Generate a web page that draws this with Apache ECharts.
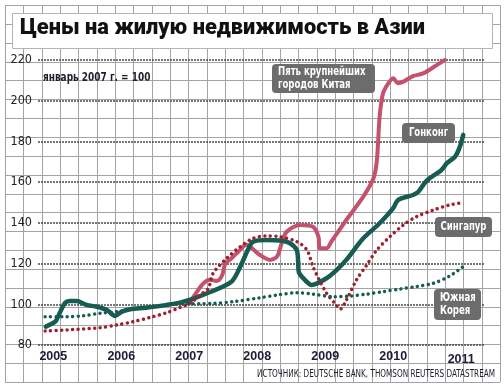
<!DOCTYPE html>
<html><head><meta charset="utf-8">
<script src="https://cdn.jsdelivr.net/npm/echarts@6/dist/echarts.min.js"></script>
<style>html,body{margin:0;padding:0;background:#fff}#c{width:504px;height:385px}</style>
</head><body><div id="c"></div>
<script>
// ---- data (January 2007 = 100) ----
const xTicks = [2005, 2006, 2007, 2008, 2009, 2010, 2011];
const yTicks = [80, 100, 120, 140, 160, 180, 200, 220];

const hkT = [2004.89,2005.03,2005.07,2005.17,2005.25,2005.34,2005.49,2005.64,2005.79,2005.91,2006.01,2006.13,2006.37,2006.67,2006.86,2007.04,2007.26,2007.62,2007.75,2007.88,2007.94,2008.14,2008.33,2008.48,2008.58,2008.60,2008.61,2008.70,2008.80,2009.02,2009.17,2009.31,2009.56,2009.80,2010.00,2010.07,2010.29,2010.37,2010.49,2010.71,2010.79,2010.91,2010.98,2011.03];
const hkV = [89,91.5,94,100.5,101.6,101.6,99.7,98.8,97.2,94.3,96.4,97.6,98.3,99.7,100.8,102.5,105.4,111.1,118.5,128,130.8,131.6,131.3,130,126.7,121.8,116,112,109.5,112.8,116.9,121.8,132.4,139.8,147.2,151.2,153.7,155.3,160.6,166,169.3,172.5,177.4,183.2];

const cnT = [2007.01,2007.11,2007.21,2007.30,2007.40,2007.48,2007.53,2007.60,2007.72,2007.84,2007.94,2008.04,2008.19,2008.29,2008.36,2008.43,2008.63,2008.82,2008.90,2008.92,2009.02,2009.09,2009.31,2009.56,2009.71,2009.76,2009.80,2009.85,2009.93,2010.00,2010.07,2010.15,2010.29,2010.44,2010.64,2010.76];
const cnV = [101,106,110.3,112,111.5,114,120,122,125.8,129.3,127,124.2,121.8,123.4,130,135.5,139,138.1,133.2,127.5,127.5,130.8,141.4,152.9,161.9,170.9,192.2,203.6,208.6,211,208.6,209.4,212.1,213.4,217.5,220];

const sgT = [2004.88,2005.20,2005.69,2005.93,2006.18,2006.42,2006.67,2006.86,2007.01,2007.16,2007.28,2007.35,2007.55,2007.75,2007.94,2008.14,2008.33,2008.58,2008.73,2008.82,2008.90,2009.02,2009.14,2009.22,2009.31,2009.46,2009.61,2009.76,2009.95,2010.15,2010.34,2010.59,2010.83,2011.03];
const sgV = [86.9,87.4,88.5,89.8,91.5,93.5,95.9,98.4,100.5,104.6,107.9,115.2,122.6,128.3,132.4,133.6,133.2,130.8,126.7,118.5,112.8,105.4,100.5,97.6,102,112,119.3,126.7,133.2,139,143,146.3,148.8,150];

const krT = [2004.88,2005.20,2005.44,2005.69,2005.93,2006.18,2006.42,2006.67,2006.96,2007.16,2007.35,2007.65,2008.04,2008.29,2008.58,2008.82,2009.12,2009.36,2009.61,2009.85,2010.10,2010.34,2010.59,2010.83,2011.03];
const krV = [93.9,93.9,94.4,95.6,96.4,97.6,98.8,99.7,100.3,100.3,100.4,101.3,103.2,104.5,105.7,105,103.7,104,105,106.2,107.5,108.7,110.3,113.9,118.5];

const titleText = 'Цены на жилую недвижимость в Азии';
const noteText = 'январь 2007 г. = 100';
const sourceText = 'ИСТОЧНИК: DEUTSCHE BANK, THOMSON REUTERS DATASTREAM';
const nameCN = 'Пять крупнейших\nгородов Китая';
const nameHK = 'Гонконг';
const nameSG = 'Сингапур';
const nameKR = 'Южная\nКорея';

// ---- styling ----
const TEAL = '#175c52', PINK = '#c4526e', RED = '#a01e2d', BOX = '#6c6c6c', PAPER = '#a3a3a3';
const NARROW = '"Liberation Sans Narrow","DejaVu Sans Condensed",sans-serif';
const zip = (t, v) => t.map((x, i) => [x, v[i]]);

const g = [];
// graph paper background
for (let i = 0; i <= 27; i++) {
  const x = Math.round(5 + i * 18.33) + 0.5;
  g.push({type: 'line', silent: true, z: -10, shape: {x1: x, y1: 5, x2: x, y2: 382}, style: {stroke: PAPER, lineWidth: 1}});
}
for (let j = 0; j <= 20; j++) {
  const y = Math.round(5 + j * 18.85) + 0.5;
  g.push({type: 'line', silent: true, z: -10, shape: {x1: 5, y1: y, x2: 500, y2: y}, style: {stroke: PAPER, lineWidth: 1}});
}
// title box
g.push({type: 'rect', silent: true, z: -5, shape: {x: 12.5, y: 13.5, width: 480, height: 35}, style: {fill: '#fff', stroke: '#b5b5b5', lineWidth: 1}});
g.push({type: 'text', z: 10, x: 20, y: 29, style: {text: titleText, fill: '#111', font: '900 21.8px Roboto, "DejaVu Sans", sans-serif', verticalAlign: 'middle'}});
g.push({type: 'text', z: 10, x: 43, y: 78, scaleX: 0.83, style: {text: noteText, fill: '#1e1e2a', font: 'bold 12px ' + NARROW, verticalAlign: 'middle'}});
g.push({type: 'text', z: 10, x: 495, y: 374, scaleX: 0.77, style: {text: sourceText, fill: '#1e1e2a', font: '10.5px ' + NARROW, align: 'right', verticalAlign: 'middle'}});

function tag(x, y, w, h, txt, align) {
  g.push({type: 'rect', z: 20, shape: {x: x, y: y, width: w, height: h, r: 4}, style: {fill: BOX}});
  g.push({type: 'text', z: 21, x: align === 'left' ? x + 6 : x + w / 2, y: y + h / 2, scaleX: 0.73,
    style: {text: txt, fill: '#fff', font: 'bold 13px ' + NARROW, align: align || 'center', verticalAlign: 'middle', lineHeight: 13}});
}
tag(272, 64, 103, 29, nameCN, 'left');
tag(402, 123, 53, 20, nameHK);
tag(435, 217, 57, 20, nameSG);
tag(434, 289, 47, 31, nameKR, 'left');

const chart = echarts.init(document.getElementById('c'), null, {renderer: 'canvas'});
chart.setOption({
  animation: false,
  backgroundColor: '#fff',
  grid: {left: 38, right: 19, top: 60, bottom: 40, containLabel: false},
  xAxis: {
    type: 'value', min: 2004.775, max: 2011.35,
    axisLine: {show: false}, axisTick: {show: false}, splitLine: {show: false},
    axisLabel: {
      customValues: xTicks, margin: 5, color: '#1c1c34',
      fontFamily: '"Liberation Sans", Arial, sans-serif', fontWeight: 'bold', fontSize: 12.5,
      formatter: v => v === 2011 ? '{d|2011}' : String(v),
      rich: {d: {padding: [3, 0, 0, 0], fontFamily: '"Liberation Sans", Arial, sans-serif', fontWeight: 'bold', fontSize: 12.5, color: '#1c1c34'}}
    }
  },
  yAxis: {
    type: 'value', min: 80, max: 220, interval: 20,
    axisLine: {show: false}, axisTick: {show: false},
    axisLabel: {margin: 6, color: '#222', fontFamily: NARROW, fontSize: 12.5,
      formatter: v => yTicks.includes(v) ? String(v) : ''},
    splitLine: {lineStyle: {color: '#4a4a4a', width: 1.5, type: [2, 1]}}
  },
  graphic: g,
  series: [
    {name: nameCN, type: 'line', data: zip(cnT, cnV), symbol: 'none', smooth: 0.3, z: 3,
      lineStyle: {color: PINK, width: 4, cap: 'round', join: 'round'}},
    {name: nameHK, type: 'line', data: zip(hkT, hkV), symbol: 'none', smooth: 0.3, z: 4,
      lineStyle: {color: TEAL, width: 4.5, cap: 'round', join: 'round'}},
    {name: nameSG, type: 'line', data: zip(sgT, sgV), symbol: 'none', smooth: 0.3, z: 5,
      lineStyle: {color: RED, width: 3.5, type: [0.01, 5.5], cap: 'round'}},
    {name: nameKR, type: 'line', data: zip(krT, krV), symbol: 'none', smooth: 0.3, z: 5,
      lineStyle: {color: TEAL, width: 3.5, type: [0.01, 5.5], cap: 'round'}}
  ]
});
</script>
</body></html>
